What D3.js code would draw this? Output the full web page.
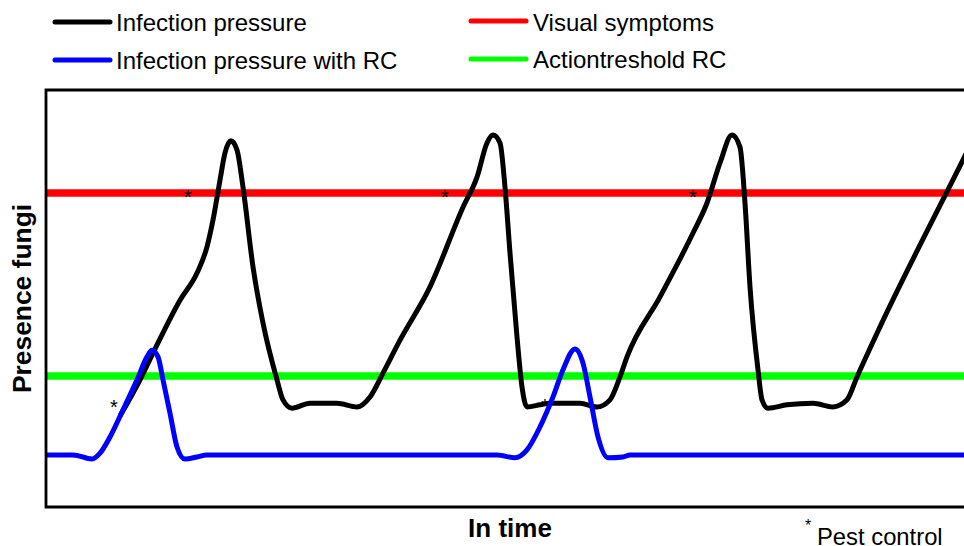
<!DOCTYPE html>
<html>
<head>
<meta charset="utf-8">
<script src="https://cdn.jsdelivr.net/npm/d3@7/dist/d3.min.js"></script>
<style>
  html, body { margin: 0; padding: 0; background: #fff; overflow: hidden; }
  svg { display: block; font-family: "Liberation Sans", Arial, sans-serif; }
</style>
</head>
<body>
<svg id="chart" width="964" height="546"></svg>
<script>
// ---- data (time units, presence units 0-100) ----
const infectionTime = [74, 94, 107, 134, 151, 161, 167, 174, 179, 185, 191, 197, 207, 217, 231, 237, 246, 264, 291, 311, 324, 337, 354, 384, 417, 431, 441, 447, 454, 459, 464, 471, 476, 481, 494, 504, 534, 551, 564, 574, 581, 614, 647, 661, 674, 686, 694, 699, 704, 712, 716, 722, 741, 767, 787, 801, 811, 834, 918, 929];
const infectionValue = [21.8, 30.5, 36.9, 49.6, 56.1, 62.4, 68.8, 78.4, 84.9, 87.8, 85.6, 76.7, 57.6, 44.1, 30.5, 25.7, 23.7, 24.9, 24.9, 24.0, 26.4, 32.1, 40.0, 52.8, 71.9, 79.1, 87.3, 89.2, 87.3, 76.7, 60.9, 40.8, 28.8, 24.0, 24.5, 24.9, 24.9, 24.0, 25.7, 31.2, 36.0, 50.4, 65.7, 72.9, 82.5, 89.2, 86.3, 72.9, 52.8, 32.9, 25.7, 23.7, 24.5, 24.9, 24.0, 25.7, 31.2, 43.2, 83.7, 89.0];

const rcTime = [0, 27, 46, 54, 64, 77, 91, 101, 106, 112, 117, 124, 131, 139, 151, 161, 451, 469, 481, 494, 507, 517, 529, 537, 544, 552, 562, 577, 584, 920];
const rcValue = [12.5, 12.5, 11.5, 12.9, 16.8, 23.3, 30.5, 36.0, 37.6, 36.0, 30.5, 22.5, 14.4, 11.5, 12.0, 12.5, 12.5, 11.8, 13.7, 19.2, 26.4, 32.9, 37.9, 34.5, 26.4, 16.8, 11.8, 12.0, 12.5, 12.5];

const visualSymptoms = 75.3;   // threshold level
const actionThreshold = 31.4;  // threshold level

const pestControlTime = [142, 399, 647, 68, 499];
const pestControlValue = [75.3, 75.3, 75.3, 24.9, 25.2];

const legendLabels = ["Infection pressure", "Infection pressure with RC", "Visual symptoms", "Actiontreshold RC"];
const legendColors = ["#000000", "#0000ff", "#ff0000", "#00ff00"];

// ---- layout ----
const svg = d3.select("#chart");
const mLeft = 46, mTop = 90, mBottom = 507, mRight = 966;

const x = d3.scaleLinear().domain([0, 920]).range([mLeft, mRight]);
const y = d3.scaleLinear().domain([0, 100]).range([mBottom, mTop]);

const infection = infectionTime.map((t, i) => [t, infectionValue[i]]);
const rc = rcTime.map((t, i) => [t, rcValue[i]]);

const line = d3.line().x(d => x(d[0])).y(d => y(d[1])).curve(d3.curveMonotoneX);

// thresholds
svg.append("line")
  .attr("x1", x(0)).attr("x2", x(920))
  .attr("y1", y(visualSymptoms)).attr("y2", y(visualSymptoms))
  .attr("stroke", "#ff0000").attr("stroke-width", 7.5);
svg.append("line")
  .attr("x1", x(0)).attr("x2", x(920))
  .attr("y1", y(actionThreshold)).attr("y2", y(actionThreshold))
  .attr("stroke", "#00ff00").attr("stroke-width", 7.5);

// curves
svg.append("path").datum(infection)
  .attr("d", line).attr("fill", "none")
  .attr("stroke", "#000").attr("stroke-width", 5)
  .attr("stroke-linejoin", "round").attr("stroke-linecap", "butt");
svg.append("path").datum(rc)
  .attr("d", line).attr("fill", "none")
  .attr("stroke", "#0000ff").attr("stroke-width", 5)
  .attr("stroke-linejoin", "round");

// pest-control markers
svg.selectAll("text.pc").data(pestControlTime).enter().append("text")
  .attr("class", "pc")
  .attr("x", (d) => x(d))
  .attr("y", (d, i) => y(pestControlValue[i]) + 11)
  .attr("text-anchor", "middle")
  .attr("font-size", 20)
  .attr("fill", "#000")
  .text("*");

// frame (left, top, bottom)
svg.append("path")
  .attr("d", `M${mRight + 10},${mTop} H${mLeft} V${mBottom} H${mRight + 10}`)
  .attr("fill", "none").attr("stroke", "#000").attr("stroke-width", 2.8);

// axis titles
svg.append("text")
  .attr("transform", `translate(31,${(mTop + mBottom) / 2}) rotate(-90)`)
  .attr("text-anchor", "middle")
  .attr("font-size", 26.4).attr("font-weight", "bold")
  .text("Presence fungi");
svg.append("text")
  .attr("x", 510).attr("y", 537)
  .attr("text-anchor", "middle")
  .attr("font-size", 26).attr("font-weight", "bold")
  .text("In time");

// pest control note
svg.append("text").attr("x", 808).attr("y", 531).attr("text-anchor", "middle")
  .attr("font-size", 16).text("*");
svg.append("text").attr("x", 817).attr("y", 545)
  .attr("font-size", 23.8).text("Pest control");

// legend
const legendPos = [[55, 22, 116, 31], [55, 60, 116, 69], [471, 21, 533, 31], [471, 59, 533, 68]];
legendLabels.forEach((lab, i) => {
  const p = legendPos[i];
  svg.append("line")
    .attr("x1", p[0]).attr("x2", p[0] + 55)
    .attr("y1", p[1]).attr("y2", p[1])
    .attr("stroke", legendColors[i]).attr("stroke-width", 5)
    .attr("stroke-linecap", "round");
  svg.append("text")
    .attr("x", p[2]).attr("y", p[3])
    .attr("font-size", 24).attr("fill", "#000")
    .text(lab);
});
</script>
</body>
</html>
